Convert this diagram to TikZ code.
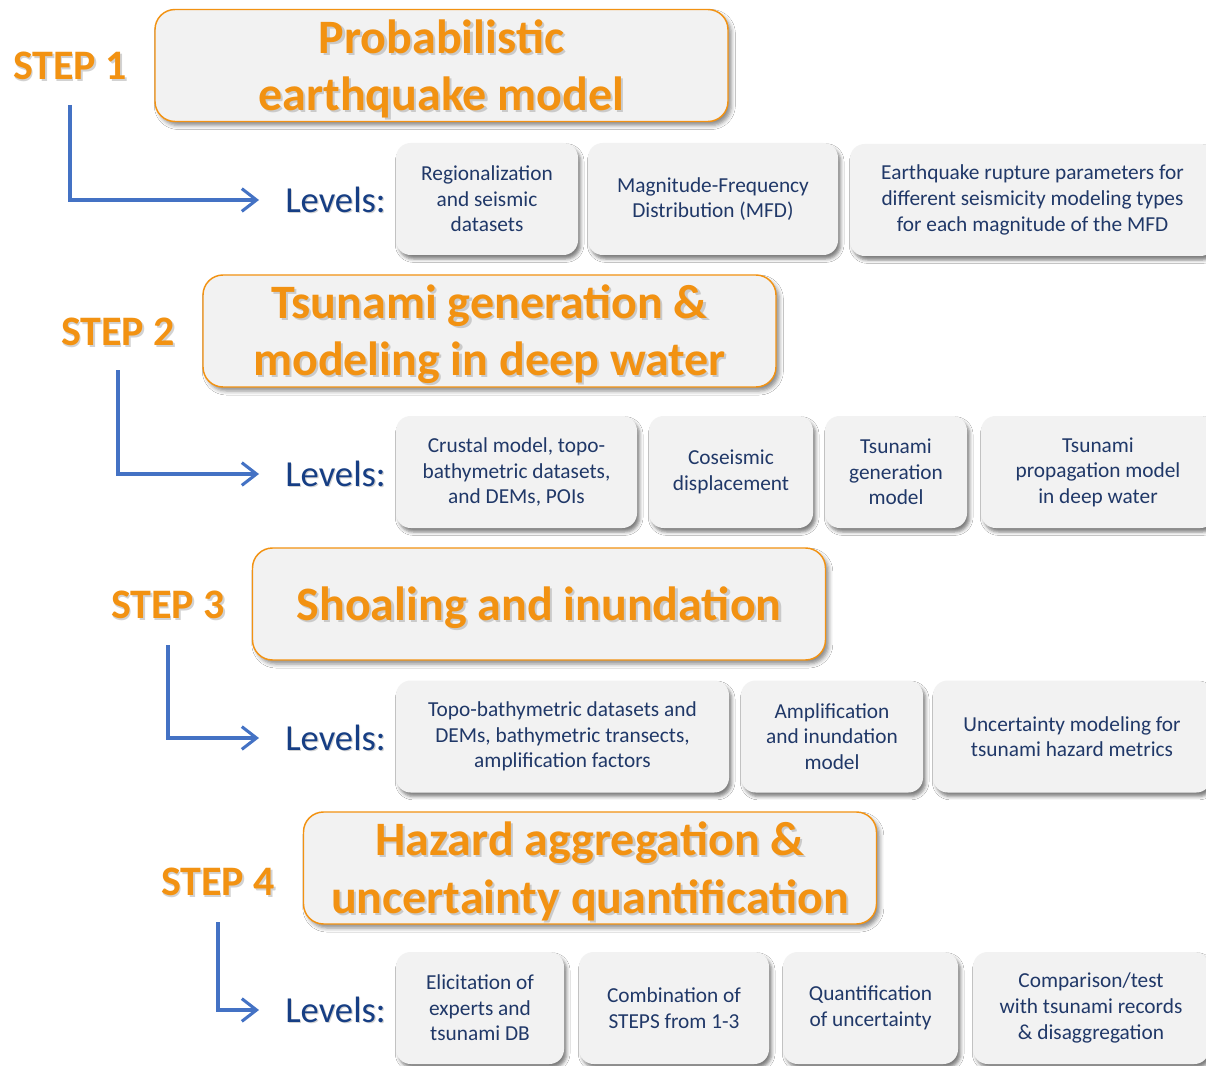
\documentclass[tikz,border=0pt]{standalone}
\usepackage{fontspec}
\setmainfont{Carlito}
\usetikzlibrary{arrows.meta,shadows.blur}

\definecolor{stepor}{RGB}{242,146,18}
\definecolor{flowblue}{RGB}{68,114,196}
\definecolor{lvblue}{RGB}{22,62,132}
\definecolor{lvtext}{RGB}{32,56,104}
\definecolor{boxfill}{RGB}{242,242,242}

\begin{document}
\begin{tikzpicture}[x=0.75pt,y=-0.75pt,
  titleframe/.style={draw=stepor, line width=1.1pt, fill=boxfill,
    rounded corners=15pt, minimum width=429.75pt, minimum height=84pt,
    inner sep=0pt,
    blur shadow={shadow xshift=2.5pt, shadow yshift=-3pt,
      shadow blur radius=3pt, shadow opacity=45}},
  titletext/.style={inner sep=0pt, align=center, text=stepor,
    font=\fontsize{36}{43}\selectfont\bfseries},
  steplabel/.style={inner sep=0pt, text=stepor,
    font=\fontsize{31.5}{36}\selectfont\bfseries},
  tshadow/.style={text=black!50, opacity=0.35},
  levels/.style={inner sep=0pt, anchor=west, text=lvblue,
    font=\fontsize{27.5}{32}\selectfont},
  lvbox/.style={fill=boxfill, rounded corners=11pt, minimum height=84pt,
    inner sep=0pt, align=center, text=lvtext,
    font=\fontsize{16}{19.2}\selectfont,
    blur shadow={shadow xshift=2pt, shadow yshift=-3pt,
      shadow blur radius=2.5pt, shadow opacity=50}},
  bw/.style={minimum width=#1*0.75pt},
  flow/.style={draw=flowblue, line width=2.3pt,
    -{Straight Barb[length=11pt,width=17pt,line width=2.3pt]},
    shorten >=19.5pt}
]
\fill[white] (0,0) rectangle (1206,1066);
\useasboundingbox (0,0) rectangle (1206,1066);

% ---------- STEP 1 ----------
\node[steplabel,tshadow] (s1s) at (71.5,67.5) {STEP 1};
\node[steplabel] (s1) at (70,66) {STEP 1};
\node[titleframe] (t1) at (441.5,65.5) {};
\node[titletext,tshadow] (t1s) at ([xshift=1.6pt,yshift=-4.1pt]t1.center) {Probabilistic\\earthquake model};
\node[titletext] (t1t) at ([yshift=-2.5pt]t1.center) {Probabilistic\\earthquake model};

\node[levels,tshadow] (lv1s) at (286.2,201.2) {Levels:};
\node[levels] (lv1) at (285,200) {Levels:};
\coordinate (a1) at (70,105);
\draw[flow] (a1) |- (lv1.west);

\node[lvbox,bw=182] (b11) at (487,199) {Regionalization\\and seismic\\datasets};
\node[lvbox,bw=250] (b12) at (713,199) {Magnitude-Frequency\\Distribution (MFD)};
\node[lvbox,bw=365] (b13) at (1032.5,200) {Earthquake rupture parameters for\\different seismicity modeling types\\for each magnitude of the MFD};

% ---------- STEP 2 ----------
\node[steplabel,tshadow] (s2s) at (119.5,333.5) {STEP 2};
\node[steplabel] (s2) at (118,332) {STEP 2};
\node[titleframe] (t2) at (489.5,331) {};
\node[titletext,tshadow] (t2s) at ([xshift=1.6pt,yshift=-4.1pt]t2.center) {Tsunami generation \&\\modeling in deep water};
\node[titletext] (t2t) at ([yshift=-2.5pt]t2.center) {Tsunami generation \&\\modeling in deep water};

\node[levels,tshadow] (lv2s) at (286.2,475.2) {Levels:};
\node[levels] (lv2) at (285,474) {Levels:};
\coordinate (a2) at (118,370);
\draw[flow] (a2) |- (lv2.west);

\node[lvbox,bw=241] (b21) at (516.5,472) {Crustal model, topo-\\bathymetric datasets,\\and DEMs, POIs};
\node[lvbox,bw=164] (b22) at (731,472) {Coseismic\\displacement};
\node[lvbox,bw=142] (b23) at (896,472) {Tsunami\\generation\\model};
\node[lvbox,bw=234] (b24) at (1098,472) {Tsunami\\propagation model\\in deep water};

% ---------- STEP 3 ----------
\node[steplabel,tshadow] (s3s) at (169.5,606.5) {STEP 3};
\node[steplabel] (s3) at (168,605) {STEP 3};
\node[titleframe] (t3) at (539,604) {};
\node[titletext,tshadow] (t3s) at ([xshift=1.6pt,yshift=-4.1pt]t3.center) {Shoaling and inundation};
\node[titletext] (t3t) at ([yshift=-2.5pt]t3.center) {Shoaling and inundation};

\node[levels,tshadow] (lv3s) at (286.2,739.2) {Levels:};
\node[levels] (lv3) at (285,738) {Levels:};
\coordinate (a3) at (168,645);
\draw[flow] (a3) |- (lv3.west);

\node[lvbox,bw=333] (b31) at (562.5,736.5) {Topo-bathymetric datasets and\\DEMs, bathymetric transects,\\amplification factors};
\node[lvbox,bw=182] (b32) at (832,736.5) {Amplification\\and inundation\\model};
\node[lvbox,bw=278] (b33) at (1072,736.5) {Uncertainty modeling for\\tsunami hazard metrics};

% ---------- STEP 4 ----------
\node[steplabel,tshadow] (s4s) at (219.5,883.5) {STEP 4};
\node[steplabel] (s4) at (218,882) {STEP 4};
\node[titleframe] (t4) at (590,868) {};
\node[titletext,tshadow] (t4s) at ([xshift=1.6pt,yshift=-4.1pt]t4.center) {Hazard aggregation \&\\uncertainty quantification};
\node[titletext] (t4t) at ([yshift=-2.5pt]t4.center) {Hazard aggregation \&\\uncertainty quantification};

\node[levels,tshadow] (lv4s) at (286.2,1011.2) {Levels:};
\node[levels] (lv4) at (285,1010) {Levels:};
\coordinate (a4) at (218,922);
\draw[flow] (a4) |- (lv4.west);

\node[lvbox,bw=168] (b41) at (480,1008) {Elicitation of\\experts and\\tsunami DB};
\node[lvbox,bw=190] (b42) at (674,1008) {Combination of\\STEPS from 1-3};
\node[lvbox,bw=175] (b43) at (870.5,1008) {Quantification\\of uncertainty};
\node[lvbox,bw=236] (b44) at (1091,1008) {Comparison/test\\with tsunami records\\\& disaggregation};
\end{tikzpicture}
\end{document}
